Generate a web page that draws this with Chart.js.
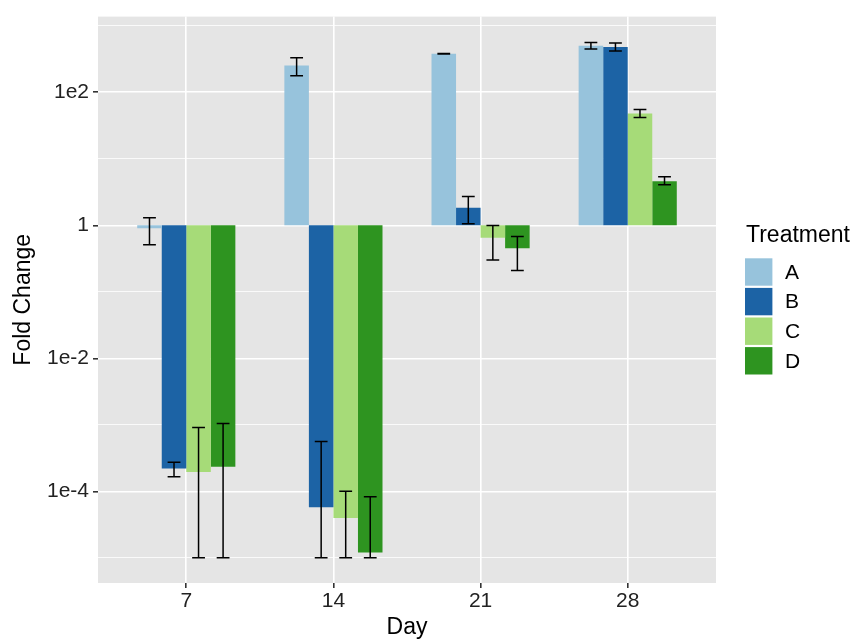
<!DOCTYPE html>
<html>
<head>
<meta charset="utf-8">
<script src="https://cdn.jsdelivr.net/npm/chart.js@4.4.1/dist/chart.umd.min.js"></script>
<style>
    body { margin: 0; background: #ffffff; }
    #wrap { width: 859px; height: 642px; }
</style>
</head>
<body>
<div id="wrap"><canvas id="foldChart" width="859" height="642"></canvas></div>
<script>
// chart data
const days = ['7', '14', '21', '28'];
const treatments = ['A', 'B', 'C', 'D'];
const colors = ['#97C3DC', '#1C63A5', '#A6DB78', '#2E9420'];

const foldA = [0.9, 252, 380, 503];
const foldB = [2.2e-4, 5.75e-5, 1.84, 480];
const foldC = [1.95e-4, 3.98e-5, 0.65, 48];
const foldD = [2.34e-4, 1.2e-5, 0.45, 4.6];

const lowA = [0.51, 178, 377, 447];
const highA = [1.3, 331, 383, 562];
const lowB = [1.66e-4, 1e-5, 1.06, 417];
const highB = [2.75e-4, 5.6e-4, 2.72, 550];
const lowC = [1e-5, 1e-5, 0.30, 41.7];
const highC = [9.1e-4, 1e-4, 0.99, 55];
const lowD = [1e-5, 1e-5, 0.21, 4.07];
const highD = [1.05e-3, 8.3e-5, 0.68, 5.37];

const yTickExps = [-5, -4, -3, -2, -1, 0, 1, 2, 3];

const folds = [foldA, foldB, foldC, foldD];
const lows = [lowA, lowB, lowC, lowD];
const highs = [highA, highB, highC, highD];

const FONT = "'Liberation Sans', Arial, Helvetica, sans-serif";

// bars start at 1 (fold change baseline)
const datasets = treatments.map((t, i) => ({
    label: t,
    data: folds[i].map((v, j) => ({ x: j + 1, y: [1, v] })),
    backgroundColor: colors[i],
    borderWidth: 0,
    categoryPercentage: 0.667,
    barPercentage: 1.0
}));

const panelBg = {
    id: 'panelBg',
    beforeDraw(chart) {
        const { ctx, chartArea: a } = chart;
        ctx.save();
        ctx.fillStyle = '#E5E5E5';
        ctx.fillRect(a.left, a.top, a.right - a.left, a.bottom - a.top);
        ctx.restore();
    }
};

const errorBars = {
    id: 'errorBars',
    afterDatasetsDraw(chart) {
        const ctx = chart.ctx;
        const yScale = chart.scales.y;
        ctx.save();
        ctx.strokeStyle = '#000000';
        ctx.lineWidth = 1.5;
        chart.data.datasets.forEach((ds, i) => {
            const meta = chart.getDatasetMeta(i);
            meta.data.forEach((bar, j) => {
                const x = bar.x;
                const yLo = yScale.getPixelForValue(lows[i][j]);
                const yHi = yScale.getPixelForValue(highs[i][j]);
                const cap = 6.4;
                ctx.beginPath();
                ctx.moveTo(x, yLo); ctx.lineTo(x, yHi);
                ctx.moveTo(x - cap, yLo); ctx.lineTo(x + cap, yLo);
                ctx.moveTo(x - cap, yHi); ctx.lineTo(x + cap, yHi);
                ctx.stroke();
            });
        });
        ctx.restore();
    }
};

const legendBox = {
    id: 'legendBox',
    afterDraw(chart) {
        const ctx = chart.ctx;
        ctx.save();
        ctx.fillStyle = '#000000';
        ctx.font = '23px ' + FONT;
        ctx.textBaseline = 'alphabetic';
        ctx.textAlign = 'left';
        ctx.fillText('Treatment', 746, 242);
        const size = 27.4;
        treatments.forEach((t, i) => {
            const top = 258.3 + i * 29.6;
            ctx.fillStyle = colors[i];
            ctx.fillRect(745, top, size, size);
            ctx.fillStyle = '#000000';
            ctx.font = '21px ' + FONT;
            ctx.textBaseline = 'middle';
            ctx.fillText(t, 785, top + size / 2 + 1);
        });
        ctx.restore();
    }
};

const ctx = document.getElementById('foldChart').getContext('2d');
new Chart(ctx, {
    type: 'bar',
    data: { datasets: datasets },
    options: {
        responsive: false,
        animation: false,
        layout: { padding: { top: 15, right: 143, left: 0, bottom: 0 } },
        plugins: {
            legend: { display: false },
            tooltip: { enabled: false }
        },
        scales: {
            x: {
                type: 'linear',
                min: 0.4,
                max: 4.6,
                offset: false,
                afterBuildTicks(scale) {
                    scale.ticks = days.map((d, i) => ({ value: i + 1 }));
                },
                afterFit(scale) { scale.height = 59; },
                ticks: {
                    autoSkip: false,
                    maxRotation: 0,
                    padding: 1,
                    color: '#222222',
                    font: { family: FONT, size: 21 },
                    callback: (v) => days[Math.round(v) - 1]
                },
                grid: {
                    offset: false,
                    color: '#FFFFFF',
                    lineWidth: 1.6,
                    tickColor: '#333333',
                    tickLength: 5
                },
                border: { display: false },
                title: {
                    display: true,
                    text: 'Day',
                    color: '#000000',
                    font: { family: FONT, size: 23 },
                    padding: { top: 0, bottom: 1 }
                }
            },
            y: {
                type: 'logarithmic',
                min: Math.pow(10, -5.378),
                max: Math.pow(10, 3.138),
                afterBuildTicks(scale) {
                    scale.ticks = yTickExps.map(e => ({ value: Math.pow(10, e), major: e % 2 === 0 }));
                },
                afterFit(scale) { scale.width = 98; },
                ticks: {
                    autoSkip: false,
                    padding: 4,
                    color: '#222222',
                    font: { family: FONT, size: 21 },
                    callback: function(v, idx) {
                        const e = yTickExps[idx];
                        if (e % 2 !== 0) return '';
                        return e === 0 ? '1' : '1e' + e;
                    }
                },
                grid: {
                    color: '#FFFFFF',
                    lineWidth: (c) => (yTickExps[c.index] % 2 === 0 ? 1.6 : 0.8),
                    tickColor: (c) => (yTickExps[c.index] % 2 === 0 ? '#333333' : 'rgba(0,0,0,0)'),
                    tickLength: 5
                },
                border: { display: false },
                title: {
                    display: true,
                    text: 'Fold Change',
                    color: '#000000',
                    font: { family: FONT, size: 23 },
                    padding: { top: 10, bottom: 0 }
                }
            }
        }
    },
    plugins: [panelBg, errorBars, legendBox]
});
</script>
</body>
</html>
